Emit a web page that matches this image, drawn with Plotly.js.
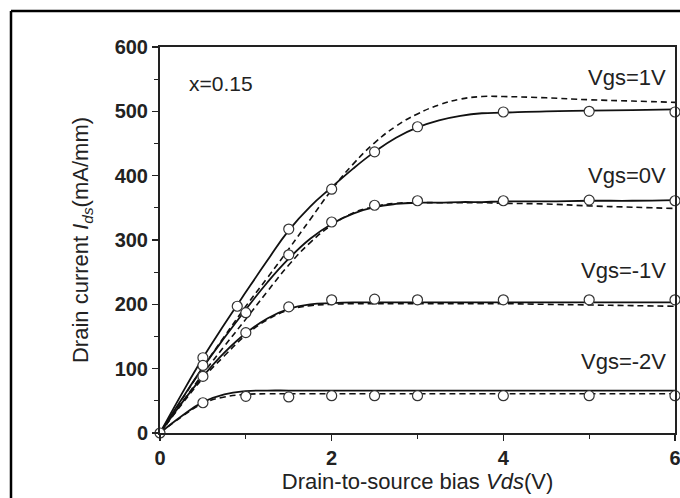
<!DOCTYPE html>
<html>
<head>
<meta charset="utf-8">
<script src="https://cdn.plot.ly/plotly-3.0.1.min.js"></script>
<style>
html,body{margin:0;padding:0;background:#fff;}
#chart{width:680px;height:498px;}
</style>
</head>
<body>
<div id="chart"></div>
<script>
// Model curves (solid = simulation, dashed = alternate model)
var xModel = [0,0.25,0.5,0.75,1,1.25,1.5,1.75,2,2.25,2.5,2.75,3,3.25,3.5,3.75,4,4.5,5,5.5,6];
var solid1V  = [0,60,117,169,219,268,315,352,382,411,437,459,475,486,493,497,498,500,501,502,503];
var dash1V   = [0,51,102,150,197,241,286,332,378,418,451,477,496,510,519,523,523,521,518,516,514];
var solid0V  = [0,52,102,148,192,234,271,302,325,341,351,356,358,358,359,359,360,360,361,361,362];
var dash0V   = [0,46,92,135,177,220,261,296,323,342,352,357,358,358,358,358,357,356,353,351,349];
var solidM1V = [0,46,88,125,155,178,193,200,202,203,203,203,203,203,203,203,203,203,203,203,203];
var dashM1V  = [0,44,85,120,152,176,191,198,200,201,201,201,201,201,201,201,201,200,199,198,197];
var solidM2V = [0,26,48,60,65,66,66,66,66,66,66,66,66,66,66,66,66,66,66,66,66];
var dashM2V  = [0,25,46,56,60,61,61,61,61,61,61,61,61,61,61,61,61,61,61,61,61];

// Measured data (open circles)
var x1V   = [0,0.5,0.9,1.5,2,2.5,3,4,5,6];
var y1V   = [0,117,197,317,379,437,476,499,500,499];
var xMeas = [0.5,1,1.5,2,2.5,3,4,5,6];
var y0V   = [105,187,277,328,354,361,361,362,361];
var yM1V  = [88,156,196,207,208,207,207,207,207];
var yM2V  = [47,57,56,58,58,58,58,58,58];

var labels = ["Vgs=1V","Vgs=0V","Vgs=-1V","Vgs=-2V"];
var labelY = [553,400,252,111];

var lineCol = '#111';
function solid(y){return {x:xModel,y:y,mode:'lines',line:{color:lineCol,width:1.8,shape:'spline',smoothing:1.3},hoverinfo:'skip',showlegend:false};}
function dashed(y){return {x:xModel,y:y,mode:'lines',line:{color:lineCol,width:1.6,dash:'6px,4px',shape:'spline',smoothing:1.3},hoverinfo:'skip',showlegend:false};}
function meas(x,y){return {x:x,y:y,mode:'markers',cliponaxis:false,marker:{symbol:'circle',size:10,color:'#fff',line:{color:'#333',width:1.2}},showlegend:false};}

var data = [
  dashed(dash1V), dashed(dash0V), dashed(dashM1V), dashed(dashM2V),
  solid(solid1V), solid(solid0V), solid(solidM1V), solid(solidM2V),
  meas(x1V,y1V), meas(xMeas,y0V), meas(xMeas,yM1V), meas(xMeas,yM2V)
];

var fontFam = 'Liberation Sans, Arial, sans-serif';
var annotations = labels.map(function(t,i){
  return {x:5.92,y:labelY[i],xref:'x',yref:'y',text:t,showarrow:false,xanchor:'right',yanchor:'middle',font:{family:fontFam,size:22,color:'#222'}};
});
annotations.push({x:0.31,y:543,xref:'x',yref:'y',text:'x=0.15',showarrow:false,xanchor:'left',yanchor:'middle',font:{family:fontFam,size:21,color:'#222'}});

var fx = (11-160)/515, fy = (433-11)/386;
var layout = {
  width:680,height:498,
  margin:{l:160,r:5,t:47,b:65},
  paper_bgcolor:'#fff',plot_bgcolor:'#fff',
  font:{family:fontFam,color:'#222'},
  showlegend:false,
  xaxis:{range:[0,6],tickvals:[0,2,4,6],ticks:'outside',ticklen:6,tickwidth:1.5,tickcolor:'#222',
    minor:{tickvals:[1,3,5],ticks:'outside',ticklen:4,tickwidth:1.2,tickcolor:'#222'},
    showline:true,linewidth:2,linecolor:'#222',mirror:true,showgrid:false,zeroline:false,
    ticklabeloverflow:'allow',
    tickfont:{family:fontFam,size:20,color:'#222',weight:'bold'},
    title:{text:'Drain-to-source bias <i>Vds</i>(V)',font:{family:fontFam,size:22,color:'#222'},standoff:2}},
  xaxis2:{overlaying:'x',side:'top',anchor:'y',range:[0,6],tickvals:[0,2,4,6],ticks:'inside',ticklen:6,tickwidth:1.5,tickcolor:'#222',
    minor:{tickvals:[1,3,5],ticks:'inside',ticklen:4,tickwidth:1.2,tickcolor:'#222'},
    showticklabels:false,showgrid:false,zeroline:false,showline:false},
  yaxis:{range:[0,600],tickvals:[0,100,200,300,400,500,600],ticks:'outside',ticklen:6,tickwidth:1.5,tickcolor:'#222',
    minor:{tickvals:[50,150,250,350,450,550],ticks:'outside',ticklen:4,tickwidth:1.2,tickcolor:'#222'},
    showline:true,linewidth:2,linecolor:'#222',mirror:true,showgrid:false,zeroline:false,
    tickfont:{family:fontFam,size:20,color:'#222',weight:'bold'},
    title:{text:'Drain current <i>I</i><sub><i>ds</i></sub>(mA/mm)',font:{family:fontFam,size:22,color:'#222'},standoff:20}},
  yaxis2:{overlaying:'y',side:'right',anchor:'x',range:[0,600],tickvals:[0,100,200,300,400,500,600],ticks:'inside',ticklen:6,tickwidth:1.5,tickcolor:'#222',
    minor:{tickvals:[50,150,250,350,450,550],ticks:'inside',ticklen:4,tickwidth:1.2,tickcolor:'#222'},
    showticklabels:false,showgrid:false,zeroline:false,showline:false},
  annotations:annotations,
  shapes:[
    {type:'line',xref:'paper',yref:'paper',x0:fx,x1:fx,y0:-0.3,y1:fy,line:{color:'#000',width:2.5}},
    {type:'line',xref:'paper',yref:'paper',x0:fx,x1:1.1,y0:fy,y1:fy,line:{color:'#000',width:2.5}}
  ]
};
Plotly.newPlot('chart',data,layout,{displayModeBar:false,staticPlot:true});
</script>
</body>
</html>
